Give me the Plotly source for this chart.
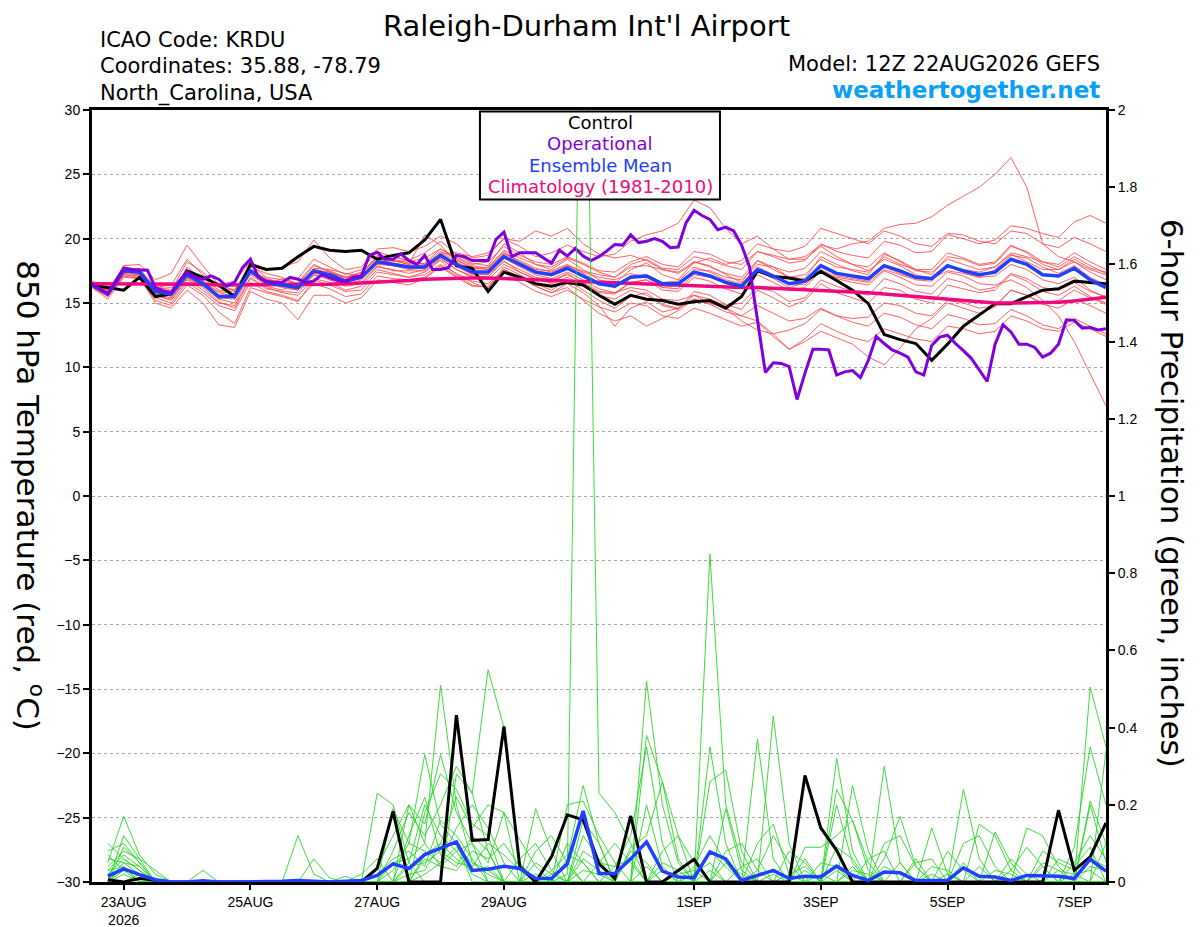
import pandas as pd
import plotly.graph_objects as go

# ---- time axes (GEFS 12Z run, 16 days) ----
times_6h = pd.date_range("2026-08-22 12:00", periods=65, freq="6h")
times_3h = pd.date_range("2026-08-22 12:00", periods=129, freq="3h")
times_precip = times_6h[1:]

tick_dates = ["2026-08-23", "2026-08-25", "2026-08-27", "2026-08-29",
              "2026-09-01", "2026-09-03", "2026-09-05", "2026-09-07"]
tick_labels = ["23AUG<br>2026", "25AUG", "27AUG", "29AUG",
               "1SEP", "3SEP", "5SEP", "7SEP"]

# ---- 850 hPa temperature (C) ----
control_temp = [
    16.4, 16.2, 16.0, 17.0, 15.5, 15.7, 17.5, 17.0, 16.4, 15.5,
    18.0, 17.6, 17.7, 18.6, 19.4, 19.1, 19.0, 19.1, 18.4, 18.7,
    18.9, 19.9, 21.5, 17.9, 17.7, 15.9, 17.4, 17.0, 16.5, 16.3,
    16.6, 16.4, 15.6, 14.9, 15.6, 15.3, 15.2, 14.9, 15.1, 15.2,
    14.6, 15.5, 17.5, 17.05, 16.95, 16.7, 17.45, 16.75, 16.0, 14.95,
    12.55, 12.15, 11.85, 10.55, 11.8, 13.2, 14.05, 14.95, 14.95, 15.45,
    16.0, 16.1, 16.7, 16.6, 16.5,
]

mean_temp = [
    16.4, 15.7, 17.5, 17.4, 15.9, 15.7, 17.2, 16.5, 15.5, 15.5,
    17.5, 16.6, 16.4, 16.2, 17.5, 17.2, 16.7, 17.0, 18.2, 18.0,
    17.8, 17.8, 18.7, 18.0, 17.4, 17.4, 18.6, 18.0, 17.4, 17.2,
    17.7, 17.1, 16.5, 16.3, 17.0, 17.1, 16.5, 16.5, 17.4, 17.1,
    16.6, 16.3, 17.6, 17.1, 16.5, 16.7, 17.9, 17.3, 17.1, 16.9,
    17.9, 17.5, 17.0, 16.9, 17.9, 17.5, 17.2, 17.4, 18.4, 18.0,
    17.2, 17.1, 17.7, 16.8, 16.2,
]

climo_temp = [
    16.5, 16.5, 16.5, 16.5, 16.45, 16.45, 16.45, 16.45, 16.4, 16.4,
    16.4, 16.4, 16.4, 16.4, 16.4, 16.45, 16.5, 16.55, 16.6, 16.65,
    16.75, 16.85, 16.9, 16.9, 16.95, 16.95, 16.9, 16.9, 16.85, 16.8,
    16.75, 16.7, 16.65, 16.6, 16.55, 16.5, 16.45, 16.4, 16.35, 16.3,
    16.25, 16.2, 16.2, 16.15, 16.1, 16.05, 16.0, 15.95, 15.9, 15.8,
    15.7, 15.6, 15.5, 15.4, 15.3, 15.2, 15.05, 15.0, 15.0, 15.0,
    15.0, 15.05, 15.15, 15.3, 15.45,
]

# operational run, 3-hourly
oper_temp = [
    16.45, 16.05, 15.7, 16.7, 17.7, 17.6, 17.6, 17.55, 16.2, 15.95,
    15.8, 16.7, 17.45, 17.0, 16.85, 17.1, 16.85, 16.3, 16.6, 17.75,
    18.4, 17.0, 16.7, 16.6, 16.6, 17.0, 16.85, 16.6, 16.7, 17.2,
    16.95, 16.75, 16.7, 17.0, 17.1, 18.7, 18.95, 18.4, 18.4, 18.8,
    18.3, 18.0, 18.7, 17.6, 17.6, 17.75, 18.7, 18.6, 18.3, 18.3,
    18.3, 19.95, 20.5, 18.6, 18.9, 18.9, 18.9, 18.5, 18.1, 19.1,
    18.65, 19.25, 18.65, 18.3, 18.6, 19.05, 19.55, 19.5, 20.3, 19.7,
    19.8, 20.0, 19.8, 19.3, 19.35, 21.25, 22.2, 21.8, 21.5, 20.7,
    20.9, 20.6, 19.5, 17.8, 13.8, 9.6, 10.35, 10.3, 10.05, 7.5,
    9.55, 11.4, 11.4, 11.35, 9.4, 9.65, 9.75, 9.2, 10.55, 12.4,
    11.85, 11.35, 11.1, 10.8, 9.65, 9.4, 11.7, 12.35, 12.5, 11.85,
    11.3, 10.7, 9.8, 8.9, 11.8, 13.3, 12.75, 11.8, 11.8, 11.55,
    10.8, 11.1, 11.8, 13.7, 13.65, 13.05, 13.1, 12.9, 13.0,
]

r01 = [16.6, 16.0, 17.8, 17.6, 16.3, 16.0, 18.2, 17.4, 16.2, 16.0,
       18.0, 17.0, 16.8, 16.9, 18.4, 17.8, 17.2, 17.6, 19.0, 18.6,
       18.3, 18.9, 19.8, 18.8, 18.1, 17.9, 19.6, 18.9, 18.0, 17.6,
       18.4, 17.6, 16.8, 16.5, 17.6, 18.1, 17.2, 16.8, 18.2, 17.9,
       17.2, 16.6, 18.3, 17.8, 17.0, 16.9, 18.6, 18.0, 17.5, 17.2,
       18.8, 18.3, 17.6, 17.2, 18.6, 18.4, 17.9, 18.1, 19.4, 19.0,
       18.2, 17.8, 18.6, 17.9, 17.3]
r02 = [16.2, 15.3, 17.0, 16.9, 15.2, 14.8, 16.4, 15.6, 14.3, 13.4,
       16.2, 15.8, 15.5, 15.1, 16.8, 16.4, 15.9, 16.0, 17.4, 17.2,
       17.0, 17.4, 18.3, 17.2, 16.6, 16.1, 17.8, 17.2, 16.5, 16.0,
       16.8, 16.0, 15.2, 14.6, 15.5, 15.8, 14.8, 14.5, 15.9, 15.6,
       14.9, 14.5, 16.0, 15.4, 14.7, 15.2, 16.5, 15.8, 15.4, 15.0,
       16.2, 16.0, 15.3, 15.0, 16.4, 16.1, 15.8, 16.0, 17.2, 16.7,
       15.9, 15.6, 16.3, 15.5, 15.0]
r03 = [16.5, 15.9, 17.3, 17.7, 16.0, 15.5, 17.8, 16.8, 15.3, 15.8,
       17.2, 16.4, 16.9, 16.5, 17.9, 17.5, 17.0, 17.4, 18.6, 18.7,
       18.2, 18.5, 19.2, 18.6, 18.0, 18.2, 19.4, 18.7, 18.2, 18.0,
       18.6, 18.1, 17.5, 17.4, 18.2, 18.6, 18.0, 17.8, 19.0, 18.8,
       18.2, 18.0, 19.0, 18.7, 18.4, 18.6, 19.5, 19.2, 19.6, 19.8,
       20.8, 21.1, 21.2, 21.7, 22.6, 23.3, 24.0, 25.0, 26.3, 24.0,
       19.6, 18.6, 18.2, 17.6, 17.2]
r04 = [16.3, 15.6, 17.2, 17.1, 15.6, 15.3, 16.9, 16.2, 15.1, 14.6,
       16.9, 16.1, 15.9, 15.8, 17.2, 16.8, 16.3, 16.5, 17.8, 17.6,
       17.3, 17.6, 18.5, 17.6, 17.0, 16.8, 18.0, 17.4, 16.8, 16.6,
       17.3, 16.5, 15.8, 15.7, 16.6, 16.8, 16.0, 15.9, 17.0, 16.7,
       16.1, 15.7, 17.2, 16.6, 16.0, 16.2, 17.5, 16.9, 16.6, 16.4,
       17.5, 17.0, 16.4, 16.3, 17.4, 17.1, 16.5, 16.4, 16.8, 16.2,
       15.2, 14.0, 12.0, 9.5, 7.0]
r05 = [16.7, 16.1, 17.6, 17.3, 16.1, 16.2, 17.4, 16.9, 16.0, 15.9,
       17.8, 17.3, 17.0, 16.4, 17.7, 17.6, 17.3, 17.1, 18.3, 18.4,
       18.1, 18.0, 19.0, 18.5, 17.9, 17.7, 19.1, 18.5, 18.0, 17.8,
       18.5, 18.0, 17.4, 17.0, 18.0, 18.4, 17.7, 17.6, 18.6, 18.3,
       17.9, 17.6, 19.0, 18.6, 18.1, 18.3, 19.6, 19.0, 18.7, 18.5,
       19.8, 19.5, 18.9, 19.0, 20.3, 20.0, 19.6, 19.9, 21.0, 20.8,
       20.4, 20.1, 21.3, 21.8, 21.2]
r06 = [16.4, 15.8, 17.6, 17.5, 16.0, 15.9, 17.4, 16.6, 15.8, 15.5,
       17.6, 16.9, 16.5, 16.1, 17.4, 17.0, 16.4, 16.8, 18.0, 17.9,
       17.6, 17.7, 18.6, 17.8, 17.3, 17.2, 18.2, 17.6, 17.0, 16.8,
       17.2, 16.6, 15.9, 15.8, 16.2, 16.0, 15.3, 15.2, 15.6, 15.0,
       14.6, 14.0, 13.6, 12.6, 11.4, 12.0, 12.8, 12.3, 11.8, 10.8,
       10.2, 11.5, 13.0, 13.8, 15.0, 14.6, 14.2, 14.7, 16.0, 15.6,
       15.0, 15.2, 16.0, 15.4, 14.9]
r07 = [16.6, 15.9, 17.8, 17.5, 16.2, 16.4, 18.4, 17.2, 16.4, 16.7,
       18.2, 17.5, 17.8, 18.2, 19.9, 18.5, 17.6, 17.8, 19.2, 19.3,
       19.0, 19.4, 20.2, 19.6, 18.5, 18.7, 20.0, 19.4, 18.6, 18.9,
       19.5, 19.0, 18.6, 18.8, 19.8, 20.3, 20.6, 21.2, 23.0, 22.4,
       20.8, 19.6, 20.2, 19.2, 18.4, 18.4, 19.4, 18.6, 18.0, 17.8,
       18.9, 18.2, 17.5, 17.4, 18.4, 18.0, 17.6, 17.8, 18.8, 18.2,
       17.6, 17.6, 18.4, 17.7, 17.4]
r08 = [16.2, 15.5, 17.2, 17.0, 15.0, 14.6, 16.0, 15.0, 13.3, 13.1,
       15.9, 15.3, 15.0, 13.7, 15.6, 15.6, 15.0, 15.4, 16.8, 16.6,
       16.4, 16.9, 17.8, 17.0, 16.3, 16.3, 17.6, 17.0, 16.3, 15.8,
       16.5, 15.8, 14.8, 13.2, 14.6, 15.1, 14.3, 14.6, 15.6, 15.3,
       14.8, 15.0, 16.2, 15.9, 15.1, 15.4, 16.8, 16.3, 15.9, 15.6,
       16.9, 16.5, 15.9, 15.7, 16.9, 16.6, 16.0, 16.2, 17.3, 16.9,
       16.2, 16.0, 16.6, 15.9, 15.5]
r09 = [16.5, 15.8, 17.9, 18.0, 16.8, 17.3, 19.5, 17.9, 16.4, 16.0,
       17.6, 16.3, 16.0, 16.6, 18.0, 17.4, 16.9, 17.2, 18.7, 18.3,
       18.0, 20.3, 19.5, 18.2, 17.6, 17.8, 19.0, 18.1, 17.5, 17.3,
       17.9, 17.4, 17.0, 16.8, 17.3, 17.0, 16.2, 16.4, 17.6, 17.5,
       17.0, 16.8, 18.0, 17.8, 17.4, 17.7, 19.0, 18.4, 18.0, 17.5,
       18.4, 17.9, 17.2, 16.9, 17.5, 17.3, 17.0, 17.6, 18.7, 18.5,
       17.8, 17.3, 17.9, 17.0, 16.4]
r10 = [16.4, 15.6, 17.3, 17.2, 15.7, 15.4, 17.0, 16.3, 15.3, 15.0,
       17.3, 16.6, 16.2, 16.0, 17.2, 17.0, 16.5, 16.6, 17.9, 17.5,
       17.5, 17.5, 18.4, 17.6, 17.1, 17.0, 18.3, 17.4, 16.9, 16.5,
       17.0, 16.3, 15.6, 15.3, 16.0, 15.6, 14.9, 14.6, 15.3, 14.9,
       14.3, 14.0, 14.8, 14.2, 13.6, 13.8, 14.6, 14.0, 13.5, 13.2,
       14.2, 13.9, 13.3, 13.0, 14.1, 13.8, 13.3, 13.4, 14.5, 14.0,
       13.3, 13.0, 13.8, 13.2, 12.6]
r11 = [16.6, 16.0, 17.7, 17.6, 16.0, 15.8, 17.3, 16.6, 15.9, 15.7,
       17.5, 16.8, 16.6, 16.3, 17.5, 17.1, 16.8, 17.1, 18.4, 18.1,
       17.9, 17.9, 18.9, 18.3, 17.8, 17.6, 18.8, 18.3, 17.7, 17.4,
       17.9, 17.5, 17.2, 17.0, 17.8, 17.9, 17.6, 17.3, 18.1, 18.5,
       18.0, 18.3, 19.6, 19.2, 19.0, 19.4, 20.8, 20.4, 20.0, 19.6,
       20.6, 20.2, 19.6, 19.4, 20.4, 20.3, 19.8, 19.6, 20.6, 20.4,
       19.6, 19.3, 20.1, 19.6, 19.0]
r12 = [16.3, 15.7, 17.4, 17.3, 15.6, 15.2, 16.8, 16.0, 15.0, 14.8,
       17.0, 16.2, 15.8, 15.6, 16.9, 16.6, 16.0, 16.3, 17.6, 17.3,
       17.0, 17.2, 18.0, 17.3, 16.7, 16.5, 17.6, 17.0, 16.3, 15.8,
       16.2, 15.2, 14.2, 13.6, 14.0, 13.2, 13.8, 14.4, 15.3, 15.0,
       14.6, 13.6, 12.9, 12.6, 12.9, 13.4, 14.5, 14.0, 13.8, 13.9,
       15.0, 14.8, 14.2, 14.0, 15.2, 15.0, 14.6, 14.8, 16.0, 15.6,
       14.9, 14.6, 15.3, 14.8, 14.2]
r13 = [16.5, 15.8, 17.5, 17.3, 15.9, 15.8, 17.0, 16.4, 15.4, 15.3,
       17.4, 16.7, 16.3, 16.0, 17.3, 17.3, 17.0, 17.3, 18.5, 18.3,
       18.0, 18.1, 19.2, 18.4, 17.7, 17.6, 18.9, 18.2, 17.6, 17.5,
       18.0, 17.3, 16.6, 16.2, 17.1, 17.2, 16.6, 16.7, 17.8, 17.4,
       16.8, 16.5, 17.8, 17.2, 16.5, 16.4, 17.6, 17.0, 16.8, 16.6,
       17.6, 17.2, 16.8, 16.7, 17.8, 17.6, 17.4, 17.8, 18.9, 18.6,
       18.2, 18.0, 18.9, 18.2, 17.6]
r14 = [16.4, 15.9, 17.5, 17.4, 16.0, 15.7, 17.3, 16.7, 15.6, 15.6,
       17.6, 16.8, 16.7, 16.5, 17.6, 17.4, 17.0, 17.2, 18.2, 18.2,
       18.3, 18.0, 18.8, 18.9, 18.6, 18.9, 20.0, 19.8, 20.6, 20.2,
       20.8, 19.6, 18.8, 18.5, 18.7, 18.3, 17.6, 17.4, 18.2, 17.8,
       17.3, 17.0, 18.3, 17.6, 17.0, 17.2, 18.4, 17.8, 17.6, 17.4,
       18.6, 18.0, 17.6, 17.6, 18.9, 18.5, 18.0, 18.2, 19.5, 18.9,
       18.0, 17.6, 18.2, 17.4, 16.8]
r15 = [16.5, 15.6, 17.4, 17.2, 15.8, 15.6, 17.1, 16.5, 15.5, 15.4,
       17.4, 16.5, 16.3, 16.1, 17.4, 17.0, 16.6, 16.9, 18.1, 17.9,
       17.7, 17.7, 18.6, 17.9, 17.2, 17.2, 18.5, 17.8, 17.2, 16.9,
       17.4, 16.8, 16.1, 15.8, 16.6, 16.8, 16.2, 16.1, 17.2, 17.0,
       16.5, 16.2, 17.5, 16.9, 16.2, 16.6, 17.9, 17.1, 16.9, 16.7,
       17.8, 17.3, 16.9, 16.8, 17.9, 17.4, 17.0, 17.1, 18.0, 17.6,
       16.8, 16.5, 17.0, 16.0, 15.4]
r16 = [16.3, 15.5, 17.1, 16.9, 15.4, 15.0, 16.6, 15.8, 14.8, 14.4,
       16.6, 15.9, 15.6, 15.2, 16.5, 16.1, 15.5, 15.7, 17.1, 16.9,
       16.8, 17.0, 17.9, 17.1, 16.4, 16.2, 17.4, 16.6, 15.9, 15.5,
       16.0, 15.3, 14.7, 14.3, 15.0, 14.8, 14.0, 13.8, 14.6, 14.2,
       13.7, 13.2, 13.5, 12.4, 11.4, 12.2, 13.4, 12.8, 12.3, 12.0,
       13.0, 12.6, 12.2, 12.0, 13.2, 13.0, 12.6, 12.8, 14.0, 13.6,
       13.0, 12.8, 13.5, 13.0, 12.4]

member_temps = [r01, r02, r03, r04, r05, r06, r07, r08,
                r09, r10, r11, r12, r13, r14, r15, r16]

# ---- 6-hour precipitation (inches) ----
control_precip = [
    .006, 0, .009, .004, 0, 0, 0, 0,
    0, 0, 0, 0, 0, 0, 0, 0,
    0, .035, .183, 0, 0, 0, .432, .108,
    .11, .403, .04, 0, .065, .174, .161, .047,
    .009, .171, 0, 0, .03, .059, 0, 0,
    0, 0, 0, 0, .276, .14, .082, 0,
    0, 0, 0, 0, 0, 0, 0, 0,
    0, 0, 0, 0, .186, .03, .065, .153,
]

mean_precip = [
    .015, .034, .019, .006, 0, 0, .003, 0,
    0, 0, 0, .002, .004, .003, 0, .002,
    .004, .017, .047, .035, .071, .088, .104, .03,
    .033, .041, .035, .009, .009, .047, .184, .022,
    .022, .06, .104, .028, .013, .011, .078, .06,
    .004, .017, .03, .009, .015, .013, .041, .017,
    .004, .026, .024, .004, .004, .004, .037, .015,
    .013, .004, .017, .015, .015, .009, .059, .028,
]

g01 = [.05, .17, .07, .02, 0, 0, 0, 0, 0, 0, 0, 0, 0, 0, 0, 0,
       0, .04, .12, .20, .10, .51, .20, .05, .02, 0, 0, 0, 0, .06, .25, .10,
       0, 0, .52, .20, .05, 0, 0, 0, 0, 0, 0, 0, .03, 0, .32, .08,
       0, 0, 0, 0, 0, 0, .05, 0, 0, 0, 0, 0, 0, 0, .505, .35]
g02 = [.08, .10, .05, 0, 0, 0, 0, 0, 0, 0, 0, 0, 0, 0, 0, 0,
       0, .23, .20, .05, 0, 0, .28, .23, .55, .40, .05, 0, 0, .02, 2.8, .23,
       .18, .10, 0, 0, 0, 0, .03, 0, 0, 0, 0, 0, 0, 0, 0, 0,
       0, .30, .05, 0, 0, 0, 0, 0, 0, 0, 0, 0, 0, 0, .20, .05]
g03 = [.03, .07, .04, 0, 0, 0, .03, 0, 0, 0, 0, 0, 0, 0, 0, 0,
       0, 0, .19, .10, .33, .15, .10, 0, 0, 0, 0, .19, .08, 0, 0, 0,
       0, 0, .38, .26, .06, 0, .85, .20, .05, 0, 0, 0, 0, 0, .24, .16,
       .05, 0, 0, 0, .14, .02, 0, 0, 0, 0, 0, 0, 0, .09, .35, .20]
g04 = [0, .09, .05, 0, 0, 0, 0, 0, 0, 0, 0, 0, .12, .02, 0, 0,
       0, 0, 0, .20, .15, .33, .18, .10, 0, 0, 0, 0, 0, .20, .21, .12,
       .05, 0, 0, 0, 0, 0, .35, .10, 0, .37, .06, 0, 0, 0, 0, 0,
       0, .06, .17, .04, 0, 0, 0, 0, 0, 0, .14, .12, .04, 0, 0, 0]
g05 = [.02, .06, .03, 0, 0, 0, 0, 0, 0, 0, 0, 0, 0, .06, .01, 0,
       0, 0, 0, 0, .18, .28, .24, .15, .12, 0, 0, 0, 0, 0, .08, .05,
       .04, .12, .35, .10, 0, 0, .26, .29, .08, 0, .43, .10, 0, 0, 0, .25,
       .08, 0, 0, 0, 0, 0, .24, .06, 0, 0, 0, 0, 0, 0, .21, .10]
g06 = [0, .04, 0, 0, 0, 0, 0, 0, 0, 0, 0, 0, 0, 0, 0, 0,
       .02, .06, 0, 0, .07, .10, .22, .14, .20, .18, 0, .08, .12, .05, 0, 0,
       0, .09, .12, .26, .12, 0, 0, .19, .03, 0, 0, 0, .09, .09, .12, .16,
       .03, 0, 0, 0, 0, 0, 0, .15, .12, .03, 0, 0, 0, 0, 0, .34]
g07 = [.06, .05, .02, 0, 0, 0, 0, 0, 0, 0, 0, 0, 0, 0, 0, .015,
       0, 0, .08, .18, .12, .20, .30, .23, .08, 0, 0, 0, 0, 0, 0, .05,
       .10, .05, 0, 0, 0, .04, .12, .05, 0, 0, 0, .08, .05, 0, 0, 0,
       0, .10, .12, .04, 0, 0, 0, 0, .13, .05, 0, 0, .06, .04, .09, 0]
g08 = [.04, .08, .06, .03, 0, 0, 0, 0, 0, 0, 0, 0, 0, 0, 0, 0,
       0, 0, 0, .05, .20, .12, .08, .10, .05, .18, .11, .04, 0, 0, .12, .06,
       0, 0, 0, .08, .12, .05, 0, 0, 0, .03, .12, .05, 0, 0, .20, .05,
       0, 0, 0, 0, .04, .03, 0, 0, 0, 0, 0, .08, .05, .03, .06, .04]
g09 = [0, .03, .02, 0, 0, 0, 0, 0, 0, 0, 0, 0, 0, 0, 0, 0,
       0, .02, .06, .08, .04, .16, .12, .06, 0, 0, 0, .05, .02, 0, 0, 0,
       0, .08, .05, 0, 0, 0, 0, .05, .02, 0, 0, 0, 0, .05, .04, 0,
       0, 0, 0, .05, .06, 0, 0, 0, 0, .03, .09, .04, 0, 0, 0, 0]
g10 = [.07, .03, 0, 0, 0, 0, 0, 0, 0, 0, 0, 0, 0, 0, 0, 0,
       0, 0, .03, .10, .08, .05, .14, .20, .14, .05, 0, 0, .03, .07, .05, 0,
       0, 0, 0, .05, .03, 0, 0, 0, .04, .06, 0, 0, 0, 0, .09, .06,
       0, 0, .05, 0, 0, 0, .10, .12, .04, 0, 0, 0, 0, .05, .12, .06]
g11 = [0, .05, .04, 0, 0, 0, 0, 0, 0, 0, 0, 0, 0, 0, 0, 0,
       0, 0, 0, .04, .05, .08, .05, .04, .10, .07, .03, 0, 0, 0, .16, .10,
       0, 0, 0, 0, 0, .02, .05, 0, 0, 0, 0, .02, .04, 0, 0, 0,
       .06, .08, 0, 0, 0, .08, .03, 0, 0, 0, 0, 0, .03, .02, 0, 0]
g12 = [.10, .06, .03, 0, 0, 0, 0, 0, 0, 0, 0, 0, 0, 0, 0, 0,
       0, 0, .05, .06, .10, .04, .08, .02, 0, 0, .06, .10, .03, 0, 0, 0,
       .04, .06, 0, 0, 0, 0, .08, .04, 0, 0, 0, 0, .06, 0, 0, .03,
       .02, 0, 0, 0, 0, 0, 0, .04, 0, 0, 0, .05, .03, 0, 0, .10]
g13 = [0, .12, .06, 0, 0, 0, 0, 0, 0, 0, 0, 0, 0, 0, 0, 0,
       0, 0, 0, .12, .22, .07, .04, .12, .08, 0, 0, 0, 0, .10, .05, 0,
       0, 0, .20, .04, 0, 0, 0, 0, 0, .10, .15, .02, 0, 0, 0, 0,
       0, .04, .02, 0, 0, 0, 0, 0, 0, .06, .02, 0, 0, 0, 0, 0]
g14 = [0, 0, .02, 0, 0, 0, 0, 0, 0, 0, 0, 0, 0, 0, 0, 0,
       0, 0, 0, .02, .03, .10, .06, .03, .04, 0, 0, 0, 0, 0, .03, .02,
       0, 0, 0, 0, .02, .03, 0, 0, 0, 0, 0, 0, 0, .02, 0, 0,
       0, 0, 0, 0, .02, 0, 0, 0, 0, 0, 0, 0, 0, .02, .03, 0]
g15 = [.03, .04, 0, 0, 0, 0, 0, 0, 0, 0, 0, 0, 0, 0, 0, 0,
       0, 0, 0, 0, .06, .04, .03, .08, .06, .10, .04, 0, .02, .04, 0, 0,
       0, 0, 0, .03, 0, 0, 0, .08, .10, .03, 0, 0, 0, 0, 0, .04,
       0, 0, 0, .06, 0, 0, 0, 0, .03, .02, 0, 0, 0, 0, .04, .03]
g16 = [0, .02, 0, 0, 0, 0, 0, 0, 0, 0, 0, 0, 0, 0, 0, 0,
       0, 0, 0, 0, .02, .05, .09, .05, .03, 0, 0, .02, 0, 0, .06, .03,
       0, 0, .04, 0, 0, 0, 0, 0, 0, 0, .02, 0, 0, 0, .03, 0,
       0, 0, 0, 0, 0, .02, 0, 0, 0, 0, 0, .04, 0, 0, 0, 0]

member_precips = [g01, g02, g03, g04, g05, g06, g07, g08,
                  g09, g10, g11, g12, g13, g14, g15, g16]

TEXT_FONT = "DejaVu Sans, Liberation Sans, sans-serif"
TICK_FONT = "Liberation Sans, Arial, sans-serif"
RED = "rgba(255,70,70,0.85)"
GREEN = "rgba(40,215,40,0.9)"
BLACK = "#000000"
PURPLE = "#8000dc"
BLUE = "#2040ff"
PINK = "#f0087f"

fig = go.Figure()

for m in member_temps:
    fig.add_trace(go.Scatter(x=times_6h, y=m, mode="lines",
                             line=dict(color=RED, width=1)))

for m in member_precips:
    fig.add_trace(go.Scatter(x=times_precip, y=m, mode="lines", yaxis="y2",
                             line=dict(color=GREEN, width=1)))

fig.add_trace(go.Scatter(x=times_precip, y=control_precip, mode="lines",
                         yaxis="y2", line=dict(color=BLACK, width=3)))
fig.add_trace(go.Scatter(x=times_6h, y=control_temp, mode="lines",
                         line=dict(color=BLACK, width=3)))
fig.add_trace(go.Scatter(x=times_6h, y=climo_temp, mode="lines",
                         line=dict(color=PINK, width=3.5)))
fig.add_trace(go.Scatter(x=times_precip, y=mean_precip, mode="lines",
                         yaxis="y2", line=dict(color=BLUE, width=3.5)))
fig.add_trace(go.Scatter(x=times_6h, y=mean_temp, mode="lines",
                         line=dict(color=BLUE, width=3.5)))
fig.add_trace(go.Scatter(x=times_3h, y=oper_temp, mode="lines",
                         line=dict(color=PURPLE, width=3)))

# the page body adds 8px around the figure, so the figure is 8px smaller
fig.update_layout(
    width=1192, height=919,
    margin=dict(l=84, r=94, t=102, b=45, autoexpand=False),
    paper_bgcolor="white", plot_bgcolor="white",
    showlegend=False,
    font=dict(family=TICK_FONT, size=14, color="black"),
    xaxis=dict(
        type="date",
        range=["2026-08-22 12:00", "2026-09-07 12:00"],
        tickvals=tick_dates, ticktext=tick_labels,
        ticks="outside", ticklen=5, tickwidth=1.5, tickcolor="black",
        showgrid=False, zeroline=False, automargin=False,
        showline=True, linecolor="black", linewidth=3, mirror=True,
        tickfont=dict(size=14),
    ),
    yaxis=dict(
        range=[-30, 30], dtick=5,
        ticks="outside", ticklen=6, tickwidth=1.5, tickcolor="black",
        showgrid=True, gridcolor="#a8a8a8", griddash="dot", gridwidth=1,
        zeroline=False, automargin=False,
        showline=True, linecolor="black", linewidth=3,
        tickfont=dict(size=14),
    ),
    yaxis2=dict(
        range=[0, 2], dtick=0.2, overlaying="y", side="right",
        ticks="outside", ticklen=6, tickwidth=1.5, tickcolor="black",
        showgrid=False, zeroline=False, automargin=False,
        showline=True, linecolor="black", linewidth=3,
        tickfont=dict(size=14),
    ),
)

# legend box drawn over the lines
fig.add_shape(type="rect", xref="paper", yref="paper",
              x0=0.3826, x1=0.6193, y0=0.884, y1=0.998,
              fillcolor="white", line=dict(color="black", width=2),
              layer="above")

legend_items = [("Control", BLACK, 0.9832),
                ("Operational", PURPLE, 0.9560),
                ("Ensemble Mean", BLUE, 0.9275),
                ("Climatology (1981-2010)", PINK, 0.9003)]
for text, color, ypos in legend_items:
    fig.add_annotation(text=text, x=0.501, y=ypos, xref="paper", yref="paper",
                       showarrow=False, xanchor="center", yanchor="middle",
                       font=dict(size=18, color=color, family=TEXT_FONT))

# header texts; title hangs from the top edge of the figure
fig.add_annotation(text="Raleigh-Durham Int'l Airport", x=0.488, y=1.1321,
                   xref="paper", yref="paper", showarrow=False,
                   xanchor="center", yanchor="top", borderpad=0,
                   font=dict(size=29, family=TEXT_FONT))
for text, ypos in [("ICAO Code: KRDU", 1.0907),
                   ("Coordinates: 35.88, -78.79", 1.057),
                   ("North_Carolina, USA", 1.022)]:
    fig.add_annotation(text=text, x=0.0059, y=ypos, xref="paper", yref="paper",
                       showarrow=False, xanchor="left", yanchor="middle",
                       font=dict(size=21, family=TEXT_FONT))
fig.add_annotation(text="Model: 12Z 22AUG2026 GEFS", x=0.996, y=1.0596,
                   xref="paper", yref="paper", showarrow=False,
                   xanchor="right", yanchor="middle",
                   font=dict(size=21, family=TEXT_FONT))
fig.add_annotation(text="<b>weathertogether.net</b>", x=0.996, y=1.0259,
                   xref="paper", yref="paper", showarrow=False,
                   xanchor="right", yanchor="middle",
                   font=dict(size=23, color="#0aa0f8", family=TEXT_FONT))

# axis titles, both read top to bottom
fig.add_annotation(text="850 hPa Temperature (red, <sup>o</sup>C)",
                   x=-0.0611, y=0.501, xref="paper", yref="paper",
                   showarrow=False, textangle=90,
                   xanchor="center", yanchor="middle",
                   font=dict(size=31, family=TEXT_FONT))
fig.add_annotation(text="6-hour Precipitation (green, inches)",
                   x=1.065, y=0.503, xref="paper", yref="paper",
                   showarrow=False, textangle=90,
                   xanchor="center", yanchor="middle",
                   font=dict(size=31, family=TEXT_FONT))

fig.write_html("out.html")
